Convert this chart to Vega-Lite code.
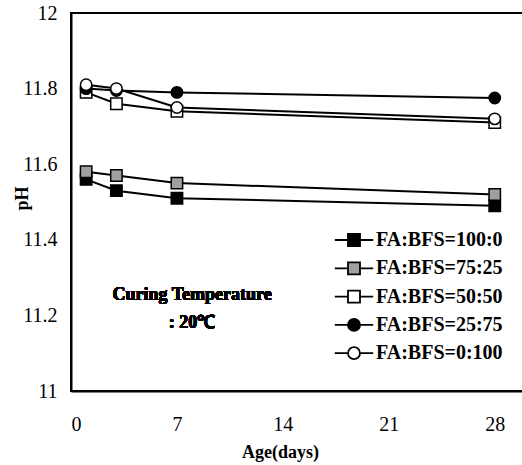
{
  "$schema": "https://vega.github.io/schema/vega-lite/v6.json",
  "width": 454,
  "height": 378,
  "autosize": {"type": "none"},
  "padding": {"left": 71, "top": 13, "right": 0, "bottom": 74},
  "background": "white",
  "config": {
    "view": {"stroke": "black", "strokeWidth": 2},
    "font": "Liberation Serif",
    "axis": {
      "domainColor": "black",
      "domainWidth": 2,
      "grid": false,
      "ticks": false,
      "labelFont": "Liberation Serif",
      "labelFontSize": 20,
      "labelColor": "black",
      "titleFont": "Liberation Serif",
      "titleFontSize": 18,
      "titleFontWeight": "bold",
      "titleColor": "black"
    }
  },
  "data": {
    "values": [
      {"mix": "FA:BFS=100:0", "age": 1, "ph": 11.56},
      {"mix": "FA:BFS=100:0", "age": 3, "ph": 11.53},
      {"mix": "FA:BFS=100:0", "age": 7, "ph": 11.51},
      {"mix": "FA:BFS=100:0", "age": 28, "ph": 11.49},
      {"mix": "FA:BFS=75:25", "age": 1, "ph": 11.58},
      {"mix": "FA:BFS=75:25", "age": 3, "ph": 11.57},
      {"mix": "FA:BFS=75:25", "age": 7, "ph": 11.55},
      {"mix": "FA:BFS=75:25", "age": 28, "ph": 11.52},
      {"mix": "FA:BFS=50:50", "age": 1, "ph": 11.79},
      {"mix": "FA:BFS=50:50", "age": 3, "ph": 11.76},
      {"mix": "FA:BFS=50:50", "age": 7, "ph": 11.74},
      {"mix": "FA:BFS=50:50", "age": 28, "ph": 11.71},
      {"mix": "FA:BFS=25:75", "age": 1, "ph": 11.8},
      {"mix": "FA:BFS=25:75", "age": 3, "ph": 11.795},
      {"mix": "FA:BFS=25:75", "age": 7, "ph": 11.79},
      {"mix": "FA:BFS=25:75", "age": 28, "ph": 11.775},
      {"mix": "FA:BFS=0:100", "age": 1, "ph": 11.81},
      {"mix": "FA:BFS=0:100", "age": 3, "ph": 11.8},
      {"mix": "FA:BFS=0:100", "age": 7, "ph": 11.75},
      {"mix": "FA:BFS=0:100", "age": 28, "ph": 11.72}
    ]
  },
  "layer": [
    {
      "mark": {"type": "line", "color": "black", "strokeWidth": 2},
      "encoding": {
        "x": {
          "field": "age",
          "type": "quantitative",
          "scale": {"domain": [0, 30], "nice": false},
          "axis": {"values": [0, 7, 14, 21, 28], "labelPadding": 23, "title": "Age(days)", "titleX": 209, "titleY": 61, "titleBaseline": "middle", "titleAnchor": "middle"}
        },
        "y": {
          "field": "ph",
          "type": "quantitative",
          "scale": {"domain": [11, 12], "nice": false, "zero": false},
          "axis": {"values": [11, 11.2, 11.4, 11.6, 11.8, 12], "format": "~g", "labelPadding": 14, "title": "pH", "titleX": -49, "titleY": 185, "titleBaseline": "middle", "titleAnchor": "middle"}
        },
        "detail": {"field": "mix"}
      }
    },
    {
      "mark": {"type": "point", "filled": true, "stroke": "black", "strokeWidth": 1.5, "size": 130, "opacity": 1},
      "encoding": {
        "x": {"field": "age", "type": "quantitative"},
        "y": {"field": "ph", "type": "quantitative"},
        "shape": {
          "field": "mix",
          "type": "nominal",
          "scale": {
            "domain": ["FA:BFS=0:100", "FA:BFS=25:75", "FA:BFS=50:50", "FA:BFS=75:25", "FA:BFS=100:0"],
            "range": ["circle", "circle", "square", "square", "square"]
          },
          "legend": null
        },
        "fill": {
          "field": "mix",
          "type": "nominal",
          "scale": {
            "domain": ["FA:BFS=100:0", "FA:BFS=75:25", "FA:BFS=50:50", "FA:BFS=25:75", "FA:BFS=0:100"],
            "range": ["black", "#a0a0a0", "white", "black", "white"]
          },
          "legend": {
            "title": null,
            "orient": "none",
            "legendX": 273,
            "legendY": 217,
            "symbolSize": 144,
            "symbolType": {"expr": "indexof(['FA:BFS=25:75','FA:BFS=0:100'], datum.value) >= 0 ? 'M-3.2,0H-1M1,0H3.2M-1,0A1,1,0,1,1,1,0A1,1,0,1,1,-1,0Z' : 'M-3.2,0H-1M1,0H3.2M-1,-1H1V1H-1Z'"},
            "symbolStrokeColor": "black",
            "symbolStrokeWidth": 1.8,
            "labelFont": "Liberation Serif",
            "labelFontSize": 20,
            "labelFontWeight": "bold",
            "labelColor": "black",
            "labelOffset": 12,
            "rowPadding": 8.3,
            "encode": {
              "symbols": {
                "stroke": {"value": "black"},
                "strokeWidth": {"value": 1.8}
              }
            }
          }
        }
      }
    },
    {
      "mark": {
        "type": "text",
        "text": ["Curing Temperature", ": 20℃"],
        "font": "Liberation Serif",
        "fontSize": 18,
        "fontWeight": "bold",
        "lineHeight": 28,
        "color": "black"
      },
      "encoding": {
        "x": {"datum": 8},
        "y": {"datum": 11.254}
      }
    }
  ]
}
